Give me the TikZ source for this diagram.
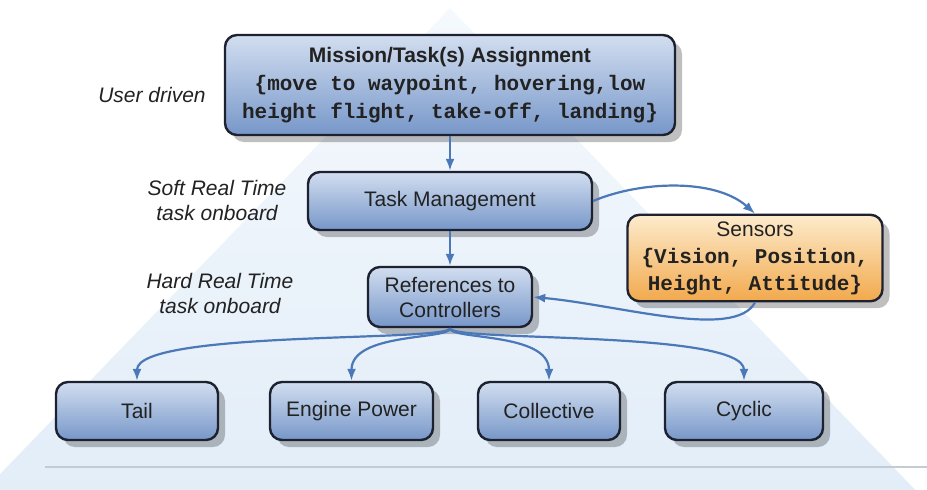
\documentclass[tikz,border=0pt]{standalone}
\usepackage{fontspec}
\setmainfont{Liberation Sans}
\setmonofont{Liberation Mono}
\usetikzlibrary{arrows.meta,shadows}

\definecolor{boxtop}{HTML}{D2DEF0}
\definecolor{boxbot}{HTML}{7797C9}
\definecolor{senstop}{HTML}{FDEBCD}
\definecolor{sensbot}{HTML}{F2A94C}
\definecolor{flow}{HTML}{4A78B8}
\definecolor{edge}{HTML}{1E2230}
\definecolor{pyrtop}{HTML}{F5F9FD}
\definecolor{pyrbot}{HTML}{E2EDF8}
\definecolor{rule}{HTML}{C4CBD5}
\definecolor{ink}{HTML}{222222}

\tikzset{
  task/.style={draw=edge, line width=1.2pt, rounded corners=6pt,
    top color=boxtop, bottom color=boxbot, text=ink, align=center,
    font=\fontsize{10.5}{12.5}\selectfont,
    drop shadow={shadow xshift=3.5pt, shadow yshift=-3.5pt, fill=black, opacity=0.25}},
  sensorbox/.style={task, top color=senstop, bottom color=sensbot,
    font=\fontsize{10.5}{13.5}\selectfont},
  level/.style={text=ink, align=center, font=\fontsize{10.5}{12.5}\selectfont\itshape},
  flowarrow/.style={draw=flow, line width=1.1pt, -{Latex[length=6pt,width=4.5pt]}},
}

\begin{document}
\begin{tikzpicture}[x=0.5pt, y=-0.5pt]
  \useasboundingbox (0,0) rectangle (927,489);

  \begin{scope}
    \clip (0,0) rectangle (927,489);
    \shade[top color=pyrtop, bottom color=pyrbot] (450,8) -- (-25,500) -- (925,500) -- cycle;
  \end{scope}
  \draw[rule, line width=1pt] (45,467) -- (927,467);

  \node[task, minimum width=225pt, minimum height=50pt, font=\fontsize{10.5}{14}\selectfont] (mission) at (450,85)
    {{\bfseries Mission/Task(s) Assignment}\\
     {\ttfamily\bfseries \{move to waypoint, hovering,low}\\
     {\ttfamily\bfseries height flight, take-off, landing\}}};
  \node[task, minimum width=142pt, minimum height=29pt] (taskmgmt) at (450,201) {Task Management};
  \node[task, minimum width=82pt, minimum height=30pt] (refs) at (450,297) {References to\\Controllers};
  \node[sensorbox, minimum width=127.5pt, minimum height=39.5pt] (sensors) at (755,258)
    {Sensors\\
     {\ttfamily\bfseries \{Vision, Position,}\\
     {\ttfamily\bfseries Height, Attitude\}}};

  \node[task, minimum width=81pt, minimum height=29pt] (tail) at (137,411) {Tail};
  \node[task, minimum width=81.5pt, minimum height=29pt] (engine) at (351.5,411) {Engine Power};
  \node[task, minimum width=71pt, minimum height=29pt] (collective) at (549,411) {Collective};
  \node[task, minimum width=79pt, minimum height=29pt] (cyclic) at (744,411) {Cyclic};

  \node[level] (user) at (152,95) {User driven};
  \node[level] (soft) at (217,200) {Soft Real Time\\task onboard};
  \node[level] (hard) at (220,293) {Hard Real Time\\task onboard};

  \draw[flowarrow] (mission) -- (taskmgmt);
  \draw[flowarrow] (taskmgmt) -- (refs);
  \draw[flowarrow] (taskmgmt.east) .. controls (640,181) and (715,178) .. (sensors.north);
  \draw[flowarrow] (sensors.south) .. controls (735,340) and (620,305) .. (refs.east);
  \draw[flowarrow] (refs.south) .. controls (450,342) and (137,330) .. (tail.north);
  \draw[flowarrow] (refs.south) .. controls (450,340) and (351.5,332) .. (engine.north);
  \draw[flowarrow] (refs.south) .. controls (450,340) and (549,332) .. (collective.north);
  \draw[flowarrow] (refs.south) .. controls (450,342) and (744,330) .. (cyclic.north);
\end{tikzpicture}
\end{document}
